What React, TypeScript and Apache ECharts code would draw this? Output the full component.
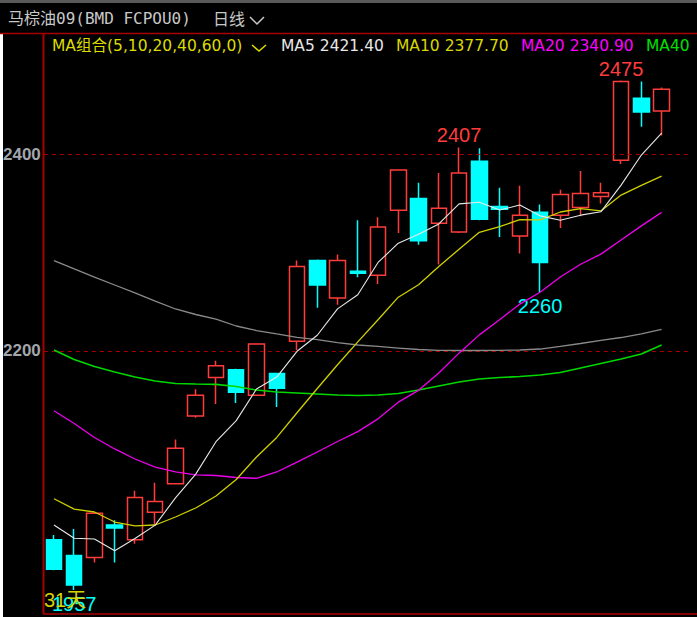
import React, { useEffect, useRef } from 'react';
import * as echarts from 'echarts';

const categories = ['1','2','3','4','5','6','7','8','9','10','11','12','13','14','15','16','17','18','19','20','21','22','23','24','25','26','27','28','29','30','31',''];

const opens  = [2008, 1992, 1990, 2023, 2008, 2036, 2065, 2134, 2173, 2181, 2155, 2177, 2210, 2292, 2254, 2281, 2277, 2343, 2355, 2330, 2321, 2393, 2347, 2317, 2341, 2338, 2346, 2357, 2394, 2457, 2444];
const closes = [1978, 1962, 2035, 2020, 2051, 2047, 2101, 2155, 2185, 2158, 2207, 2162, 2286, 2267, 2292, 2279, 2326, 2384, 2312, 2345, 2381, 2334, 2344, 2338, 2290, 2359, 2360, 2361, 2474, 2443, 2466];
const lows   = [1977, 1957, 1985, 1985, 2004, 2023, 2065, 2132, 2146, 2147, 2155, 2143, 2201, 2244, 2247, 2275, 2268, 2320, 2308, 2288, 2320, 2333, 2316, 2299, 2260, 2325, 2337, 2350, 2390, 2428, 2419];
const highs  = [2013, 2019, 2036, 2028, 2058, 2066, 2110, 2161, 2190, 2182, 2207, 2178, 2292, 2293, 2298, 2333, 2336, 2384, 2371, 2381, 2407, 2406, 2366, 2368, 2349, 2364, 2383, 2371, 2475, 2474, 2468];

const ma5  = [2023.1, 2009.6, 2008.9, 1997.0, 2009.3, 2023.0, 2050.7, 2074.8, 2107.8, 2129.2, 2161.3, 2173.5, 2199.7, 2216.0, 2242.8, 2257.2, 2290.0, 2309.6, 2318.6, 2329.2, 2349.6, 2351.2, 2343.3, 2348.4, 2337.4, 2332.9, 2338.1, 2341.5, 2368.6, 2399.2, 2421.4];
const ma10 = [2049.8, 2039.3, 2036.3, 2026.1, 2022.1, 2023.1, 2031.2, 2040.4, 2052.6, 2069.3, 2092.2, 2112.1, 2137.2, 2161.9, 2186.0, 2209.3, 2231.8, 2254.7, 2267.3, 2286.0, 2303.4, 2320.6, 2326.4, 2333.5, 2333.3, 2341.3, 2344.7, 2342.4, 2358.5, 2368.3, 2377.7];
const ma20 = [2139.3, 2126.3, 2112.0, 2100.4, 2090.2, 2082.0, 2077.0, 2074.0, 2073.4, 2071.4, 2070.6, 2077.0, 2087.0, 2097.3, 2108.0, 2118.0, 2131.0, 2148.0, 2160.0, 2177.6, 2197.8, 2216.4, 2231.8, 2247.7, 2259.7, 2275.3, 2288.2, 2298.5, 2312.9, 2327.2, 2340.9];
const ma40 = [2201.0, 2191.4, 2184.2, 2178.6, 2173.6, 2169.5, 2167.0, 2166.4, 2166.1, 2163.9, 2160.3, 2158.3, 2157.3, 2156.3, 2155.3, 2154.7, 2155.3, 2156.8, 2160.3, 2164.4, 2168.5, 2171.5, 2173.0, 2174.1, 2175.6, 2178.1, 2182.7, 2187.3, 2191.9, 2197.0, 2206.0];
const ma60 = [2291.8, 2283.4, 2275.2, 2267.1, 2259.0, 2250.8, 2242.7, 2237.1, 2232.5, 2225.4, 2220.8, 2217.3, 2213.9, 2211.5, 2208.6, 2206.1, 2204.6, 2203.0, 2201.5, 2200.7, 2200.5, 2200.5, 2200.7, 2201.0, 2202.0, 2204.6, 2207.6, 2210.7, 2213.7, 2217.3, 2222.0];

const yTicks = [2200, 2400];
const markedHighIdx = [20, 28];
const markedLowIdx = [1, 24];

const titleText = '马棕油09(BMD FCPOU0)';
const periodText = '日线';
const maGroupText = 'MA组合(5,10,20,40,60,0)';
const maLegend = ['MA5 2421.40', 'MA10 2377.70', 'MA20 2340.90', 'MA40'];
const dayCountText = '31天';

const RED = '#ff3c3c';
const CYAN = '#00ffff';
const FRAME = '#a80000';
const NARROW = '"Liberation Sans Narrow", "Arial Narrow", "Liberation Sans", sans-serif';
const LEG = '"DejaVu Sans", Verdana, sans-serif';

export default function App() {
  const ref = useRef<HTMLDivElement>(null);
  useEffect(() => {
    if (!ref.current) return;
    const chart = echarts.init(ref.current, undefined, { renderer: 'svg' });
    const candleData = opens.map((o, i) => [o, closes[i], lows[i], highs[i]]);
    const markData: any[] = [];
    markedHighIdx.forEach((i) => {
      markData.push({ coord: [i, highs[i]], value: highs[i], label: { position: 'top', distance: 2, color: RED } });
    });
    markedLowIdx.forEach((i) => {
      markData.push({ coord: [i, lows[i]], value: lows[i], label: { position: 'bottom', distance: 4, color: CYAN } });
    });
    const maLine = (name: string, data: number[], color: string, width: number) => ({
      name, type: 'line', data, showSymbol: false, symbol: 'none', silent: true, z: 5,
      lineStyle: { color, width }, emphasis: { disabled: true },
    });
    const text = (t: string, x: number, y: number, fill: string, font: string, extra: any = {}) => ({
      type: 'text', z: 100, silent: true,
      style: { text: t, x, y, fill, font, verticalAlign: 'middle', ...extra },
    });
    const option: any = {
      animation: false,
      backgroundColor: '#000000',
      grid: { left: 43.5, right: 5, top: 33, bottom: 3 },
      xAxis: {
        type: 'category', data: categories, boundaryGap: true,
        axisLine: { show: false }, axisTick: { show: false }, axisLabel: { show: false }, splitLine: { show: false },
      },
      yAxis: {
        type: 'value', min: 1932.6, max: 2523.3, scale: true,
        axisLine: { show: false }, axisTick: { show: false }, splitLine: { show: false },
        axisLabel: {
          customValues: yTicks, formatter: (v: number) => String(v),
          color: '#a2a6ac', fontFamily: '"Liberation Sans", Arial, sans-serif',
          fontWeight: 'bold', fontSize: 17, margin: 3,
        },
      },
      series: [
        {
          type: 'candlestick', data: candleData, barWidth: 16, z: 3, silent: true,
          itemStyle: { color: 'rgba(0,0,0,0)', color0: CYAN, borderColor: RED, borderColor0: CYAN, borderWidth: 1.5 },
          markLine: {
            silent: true, symbol: ['none', 'none'], label: { show: false },
            lineStyle: { color: FRAME, type: [4, 4], width: 1 },
            data: yTicks.map((v) => ({ yAxis: v })),
          },
          markPoint: {
            symbol: 'circle', symbolSize: 0, silent: true,
            label: { show: true, formatter: '{c}', fontFamily: NARROW, fontSize: 20 },
            data: markData,
          },
        },
        maLine('MA60', ma60, '#8a8a8a', 1.3),
        maLine('MA40', ma40, '#00d800', 1.6),
        maLine('MA20', ma20, '#ee00ee', 1.3),
        maLine('MA10', ma10, '#d0d000', 1.3),
        maLine('MA5', ma5, '#e8e8e8', 1.1),
      ],
      graphic: [
        { type: 'rect', z: 100, silent: true, shape: { x: 0, y: 0, width: 697, height: 3 }, style: { fill: '#5a5a5a' } },
        { type: 'rect', z: 100, silent: true, shape: { x: 0, y: 34, width: 3, height: 583 }, style: { fill: '#ffffff' } },
        { type: 'line', z: 100, silent: true, shape: { x1: 0, y1: 33.5, x2: 697, y2: 33.5 }, style: { stroke: FRAME, lineWidth: 1.5 } },
        { type: 'line', z: 100, silent: true, shape: { x1: 43.5, y1: 33.5, x2: 43.5, y2: 614 }, style: { stroke: FRAME, lineWidth: 2 } },
        { type: 'line', z: 100, silent: true, shape: { x1: 43, y1: 614, x2: 697, y2: 614 }, style: { stroke: FRAME, lineWidth: 1.5 } },
        text(titleText, 8, 18, '#c8c8c8', '16px "DejaVu Sans Mono", "Noto Sans CJK SC", monospace'),
        text(periodText, 213, 18, '#c8c8c8', '16px "Noto Sans CJK SC", sans-serif'),
        { type: 'polyline', z: 100, silent: true, shape: { points: [[250, 17], [257, 24], [264, 17]] }, style: { stroke: '#c8c8c8', lineWidth: 1.5, fill: 'none' } },
        text(maGroupText, 52, 46, '#dcdc00', '15.5px ' + LEG + ', "Noto Sans CJK SC"'),
        { type: 'polyline', z: 100, silent: true, shape: { points: [[252, 45], [259, 51], [266, 45]] }, style: { stroke: '#dcdc00', lineWidth: 1.5, fill: 'none' } },
        text(maLegend[0], 281, 46, '#e8e8e8', '15.5px ' + LEG),
        text(maLegend[1], 396, 46, '#d8d800', '15.5px ' + LEG),
        text(maLegend[2], 521, 46, '#ff00ff', '15.5px ' + LEG),
        text(maLegend[3], 646, 46, '#00e000', '15.5px ' + LEG),
        text(dayCountText, 44, 600, '#d4d400', '20px ' + NARROW + ', "Noto Sans CJK SC"'),
      ],
    };
    chart.setOption(option);
    return () => chart.dispose();
  }, []);
  return <div ref={ref} style={{ position: 'fixed', left: 0, top: 0, width: 697, height: 617 }} />;
}
